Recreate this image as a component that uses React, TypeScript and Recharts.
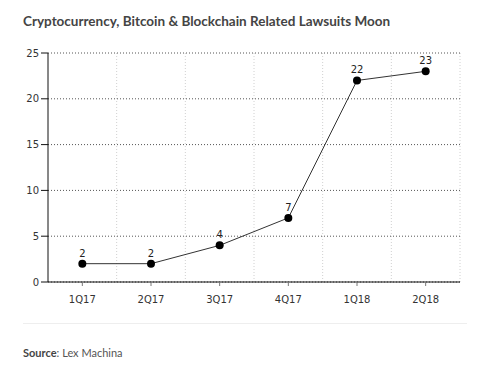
import React from "react";
import { LineChart, Line, XAxis, YAxis, CartesianGrid, LabelList } from "recharts";

const quarters = ["1Q17", "2Q17", "3Q17", "4Q17", "1Q18", "2Q18"];
const lawsuits = [2, 2, 4, 7, 22, 23];
const yTicks = [0, 5, 10, 15, 20, 25];

const data = quarters.map((q, i) => ({ q, v: lawsuits[i] }));

const tickFont = { fontFamily: "DejaVu Sans, Verdana, sans-serif", fontSize: 10, fill: "#333" };

const bandEdgeGenerator = ({ offset }: any) =>
  quarters.map((_, i) => offset.left + (offset.width * (i + 1)) / quarters.length);

export default function App() {
  return (
    <div style={{ position: "absolute", left: 0, top: 0, width: 499, height: 372, background: "#fff" }}>
      <div style={{ position: "absolute", left: 23, top: 13, fontFamily: "Lato, sans-serif", fontWeight: 700, fontSize: 13.5, color: "#444", whiteSpace: "nowrap" }}>
        Cryptocurrency, Bitcoin &amp; Blockchain Related Lawsuits Moon
      </div>
      <div style={{ position: "absolute", left: 0, top: 0 }}>
        <LineChart width={499} height={312} data={data} margin={{ top: 53, right: 39, left: 0, bottom: 0 }}>
          <XAxis dataKey="q" scale="band" interval={0} tickLine={{ stroke: "#777" }} axisLine={{ stroke: "#111" }} tickSize={4} tickMargin={10} tick={tickFont} height={30} />
          <YAxis domain={[0, 25]} ticks={yTicks} width={48} tickSize={7} tickLine={{ stroke: "#111" }} axisLine={{ stroke: "#111" }} tick={tickFont} />
          <CartesianGrid vertical={true} horizontal={false} verticalCoordinatesGenerator={bandEdgeGenerator} stroke="#d0d0d0" strokeDasharray="1 2" />
          <CartesianGrid vertical={false} horizontal={true} stroke="#555" strokeDasharray="1 2" />
          <Line dataKey="v" stroke="#333" strokeWidth={1} isAnimationActive={false} dot={{ r: 4, fill: "#000", stroke: "#000", strokeWidth: 0 }}>
            <LabelList dataKey="v" position="top" offset={7} style={{ fontFamily: "DejaVu Sans, Verdana, sans-serif", fontSize: 10, fill: "#222" }} />
          </Line>
        </LineChart>
      </div>
      <div style={{ position: "absolute", left: 23, top: 323, width: 444, height: 1, background: "#eee" }} />
      <div style={{ position: "absolute", left: 23, top: 346, fontFamily: "Lato, sans-serif", fontSize: 11, color: "#555", whiteSpace: "nowrap" }}>
        <span style={{ fontWeight: 700, color: "#444" }}>Source</span>: Lex Machina
      </div>
    </div>
  );
}
